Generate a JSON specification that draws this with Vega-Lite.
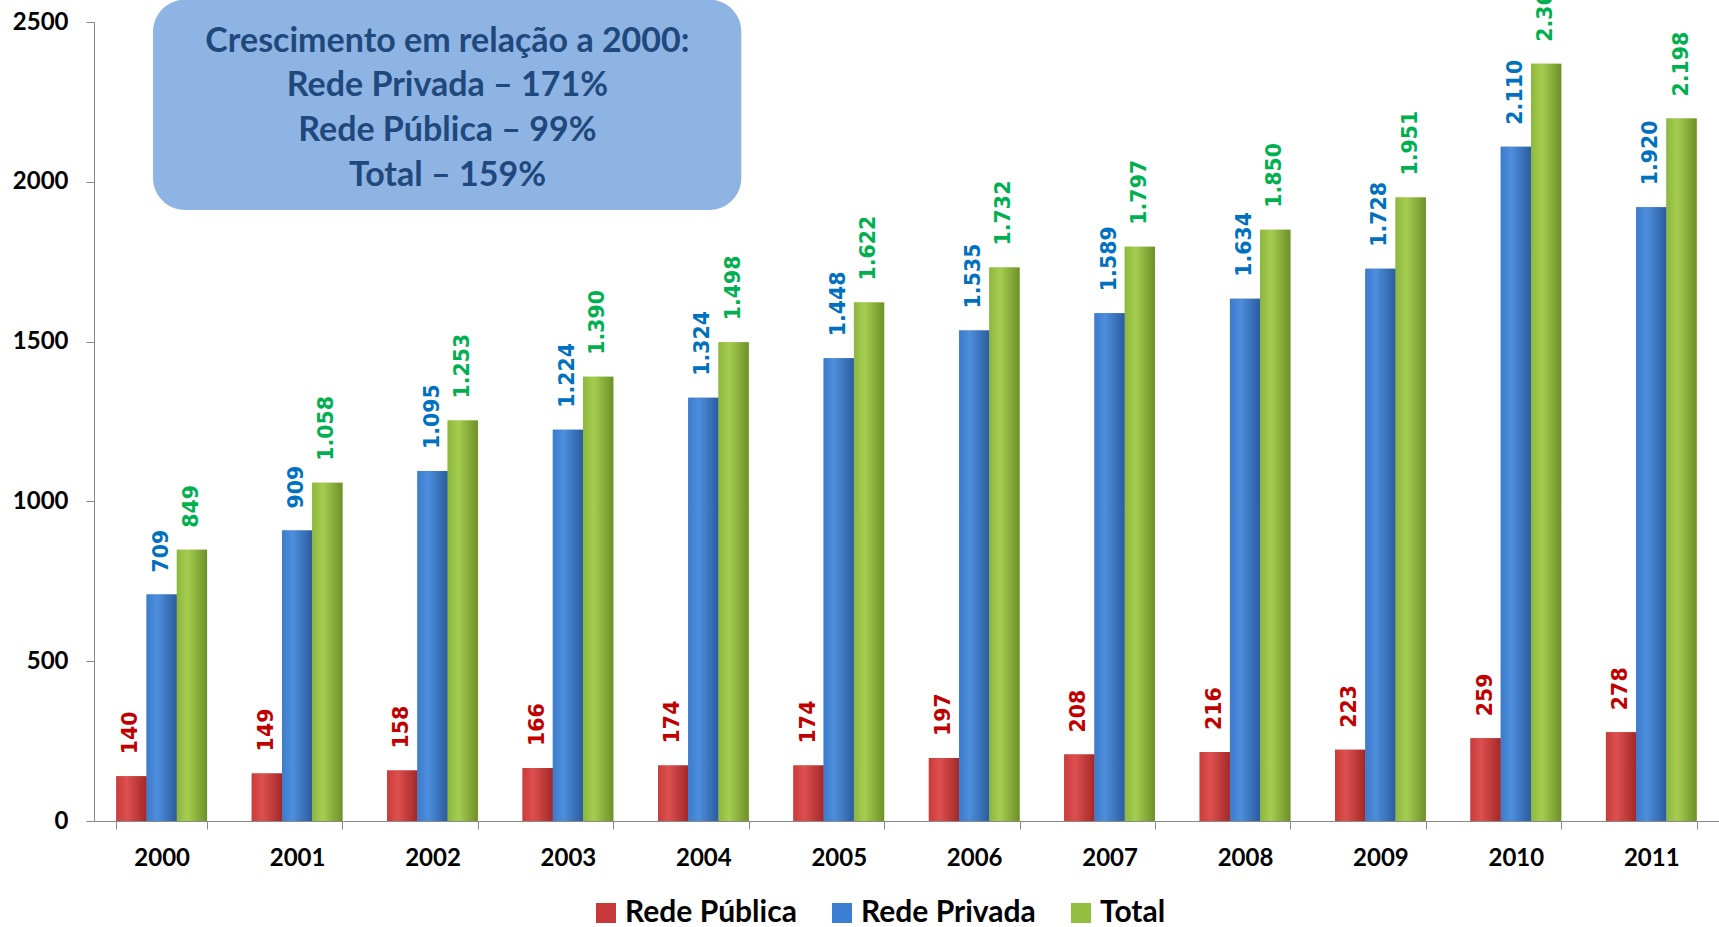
{
  "$schema": "https://vega.github.io/schema/vega-lite/v6.json",
  "width": 1625,
  "height": 799,
  "autosize": {"type": "none"},
  "padding": {"left": 94, "top": 22, "right": 0, "bottom": 106},
  "background": "white",
  "config": {
    "view": {"stroke": null},
    "locale": {"number": {"decimal": ",", "thousands": ".", "grouping": [3], "currency": ["R$", ""]}}
  },
  "datasets": {
    "main": [
      {"year": "2000", "serie": "Rede Pública", "value": 140},
      {"year": "2000", "serie": "Rede Privada", "value": 709},
      {"year": "2000", "serie": "Total", "value": 849},
      {"year": "2001", "serie": "Rede Pública", "value": 149},
      {"year": "2001", "serie": "Rede Privada", "value": 909},
      {"year": "2001", "serie": "Total", "value": 1058},
      {"year": "2002", "serie": "Rede Pública", "value": 158},
      {"year": "2002", "serie": "Rede Privada", "value": 1095},
      {"year": "2002", "serie": "Total", "value": 1253},
      {"year": "2003", "serie": "Rede Pública", "value": 166},
      {"year": "2003", "serie": "Rede Privada", "value": 1224},
      {"year": "2003", "serie": "Total", "value": 1390},
      {"year": "2004", "serie": "Rede Pública", "value": 174},
      {"year": "2004", "serie": "Rede Privada", "value": 1324},
      {"year": "2004", "serie": "Total", "value": 1498},
      {"year": "2005", "serie": "Rede Pública", "value": 174},
      {"year": "2005", "serie": "Rede Privada", "value": 1448},
      {"year": "2005", "serie": "Total", "value": 1622},
      {"year": "2006", "serie": "Rede Pública", "value": 197},
      {"year": "2006", "serie": "Rede Privada", "value": 1535},
      {"year": "2006", "serie": "Total", "value": 1732},
      {"year": "2007", "serie": "Rede Pública", "value": 208},
      {"year": "2007", "serie": "Rede Privada", "value": 1589},
      {"year": "2007", "serie": "Total", "value": 1797},
      {"year": "2008", "serie": "Rede Pública", "value": 216},
      {"year": "2008", "serie": "Rede Privada", "value": 1634},
      {"year": "2008", "serie": "Total", "value": 1850},
      {"year": "2009", "serie": "Rede Pública", "value": 223},
      {"year": "2009", "serie": "Rede Privada", "value": 1728},
      {"year": "2009", "serie": "Total", "value": 1951},
      {"year": "2010", "serie": "Rede Pública", "value": 259},
      {"year": "2010", "serie": "Rede Privada", "value": 2110},
      {"year": "2010", "serie": "Total", "value": 2369},
      {"year": "2011", "serie": "Rede Pública", "value": 278},
      {"year": "2011", "serie": "Rede Privada", "value": 1920},
      {"year": "2011", "serie": "Total", "value": 2198}
    ],
    "box": [{"x0": 0.436, "x1": 4.78, "y0": 1912, "y1": 2570}],
    "boxtext": [
      {"line": "Crescimento em relação a 2000:", "x": 2.61, "y": 2437},
      {"line": "Rede Privada – 171%", "x": 2.61, "y": 2299},
      {"line": "Rede Pública – 99%", "x": 2.61, "y": 2158},
      {"line": "Total – 159%", "x": 2.61, "y": 2017}
    ]
  },
  "resolve": {"scale": {"x": "independent", "y": "independent"}},
  "layer": [
    {
      "data": {"name": "main"},
      "resolve": {"scale": {"color": "independent"}},
      "encoding": {
        "x": {
          "field": "year", "type": "nominal",
          "scale": {"paddingInner": 0.33, "paddingOuter": 0.165},
          "axis": {
            "title": null, "labelAngle": 0, "tickBand": "extent",
            "domainColor": "#898989", "tickColor": "#898989", "tickSize": 8,
            "labelFont": "Lato", "labelFontSize": 24, "labelFontWeight": "bold",
            "labelColor": "black", "labelPadding": 17
          }
        },
        "xOffset": {
          "field": "serie", "type": "nominal",
          "scale": {"domain": ["Rede Pública", "Rede Privada", "Total"], "paddingInner": 0, "paddingOuter": 0}
        },
        "y": {
          "field": "value", "type": "quantitative",
          "scale": {"domain": [0, 2500], "nice": false},
          "axis": {
            "title": null, "values": [0, 500, 1000, 1500, 2000, 2500], "format": "d",
            "grid": false, "domainColor": "#898989", "tickColor": "#898989", "tickSize": 8,
            "labelFont": "Lato", "labelFontSize": 24, "labelFontWeight": "bold",
            "labelColor": "black", "labelPadding": 18
          }
        }
      },
      "layer": [
        {
          "mark": {"type": "bar"},
          "encoding": {
            "color": {
              "field": "serie", "type": "nominal",
              "scale": {"domain": ["Rede Pública", "Rede Privada", "Total"], "range": ["#C83A3A", "#3B7DD0", "#93BF40"]},
              "legend": {
                "title": null, "orient": "none", "legendX": 497, "legendY": 876, "direction": "horizontal",
                "symbolType": "square", "symbolSize": 400, "symbolStrokeWidth": 0,
                "labelFont": "Lato", "labelFontSize": 30, "labelFontWeight": "bold", "labelLimit": 500,
                "labelColor": "black", "columnPadding": 30, "labelOffset": 4
              }
            }
          }
        },
        {
          "transform": [{"filter": "datum.serie === 'Rede Pública'"}],
          "mark": {"type": "bar", "color": {"gradient": "linear", "x1": 0, "y1": 0, "x2": 1, "y2": 0,
            "stops": [{"offset": 0, "color": "#C83C3C"}, {"offset": 0.35, "color": "#DE4F4F"}, {"offset": 1, "color": "#A32828"}]}}
        },
        {
          "transform": [{"filter": "datum.serie === 'Rede Privada'"}],
          "mark": {"type": "bar", "color": {"gradient": "linear", "x1": 0, "y1": 0, "x2": 1, "y2": 0,
            "stops": [{"offset": 0, "color": "#3D7BCB"}, {"offset": 0.35, "color": "#4D8EDD"}, {"offset": 1, "color": "#2B5C9E"}]}}
        },
        {
          "transform": [{"filter": "datum.serie === 'Total'"}],
          "mark": {"type": "bar", "color": {"gradient": "linear", "x1": 0, "y1": 0, "x2": 1, "y2": 0,
            "stops": [{"offset": 0, "color": "#8DB63E"}, {"offset": 0.35, "color": "#A5CE50"}, {"offset": 1, "color": "#6E9028"}]}}
        },
        {
          "mark": {"type": "text", "angle": 270, "align": "left", "baseline": "middle", "dx": 22,
            "font": "DejaVu Sans", "fontSize": 20.5, "fontWeight": "bold"},
          "encoding": {
            "text": {"field": "value", "type": "quantitative", "format": ",d"},
            "color": {
              "field": "serie", "type": "nominal",
              "scale": {"domain": ["Rede Pública", "Rede Privada", "Total"], "range": ["#C00000", "#0070C0", "#00B050"]},
              "legend": null
            }
          }
        }
      ]
    },
    {
      "data": {"name": "box"},
      "mark": {"type": "rect", "cornerRadius": 32, "color": "#8EB4E3"},
      "encoding": {
        "x": {"field": "x0", "type": "quantitative", "scale": {"domain": [0, 12], "nice": false, "zero": false}, "axis": null},
        "x2": {"field": "x1"},
        "y": {"field": "y0", "type": "quantitative", "scale": {"domain": [0, 2500], "nice": false}, "axis": null},
        "y2": {"field": "y1"}
      }
    },
    {
      "data": {"name": "boxtext"},
      "mark": {"type": "text", "align": "center", "baseline": "middle", "font": "Lato", "fontSize": 34,
        "fontWeight": "bold", "color": "#1F497D"},
      "encoding": {
        "x": {"field": "x", "type": "quantitative", "scale": {"domain": [0, 12], "nice": false, "zero": false}, "axis": null},
        "y": {"field": "y", "type": "quantitative", "scale": {"domain": [0, 2500], "nice": false}, "axis": null},
        "text": {"field": "line", "type": "nominal"}
      }
    }
  ]
}
